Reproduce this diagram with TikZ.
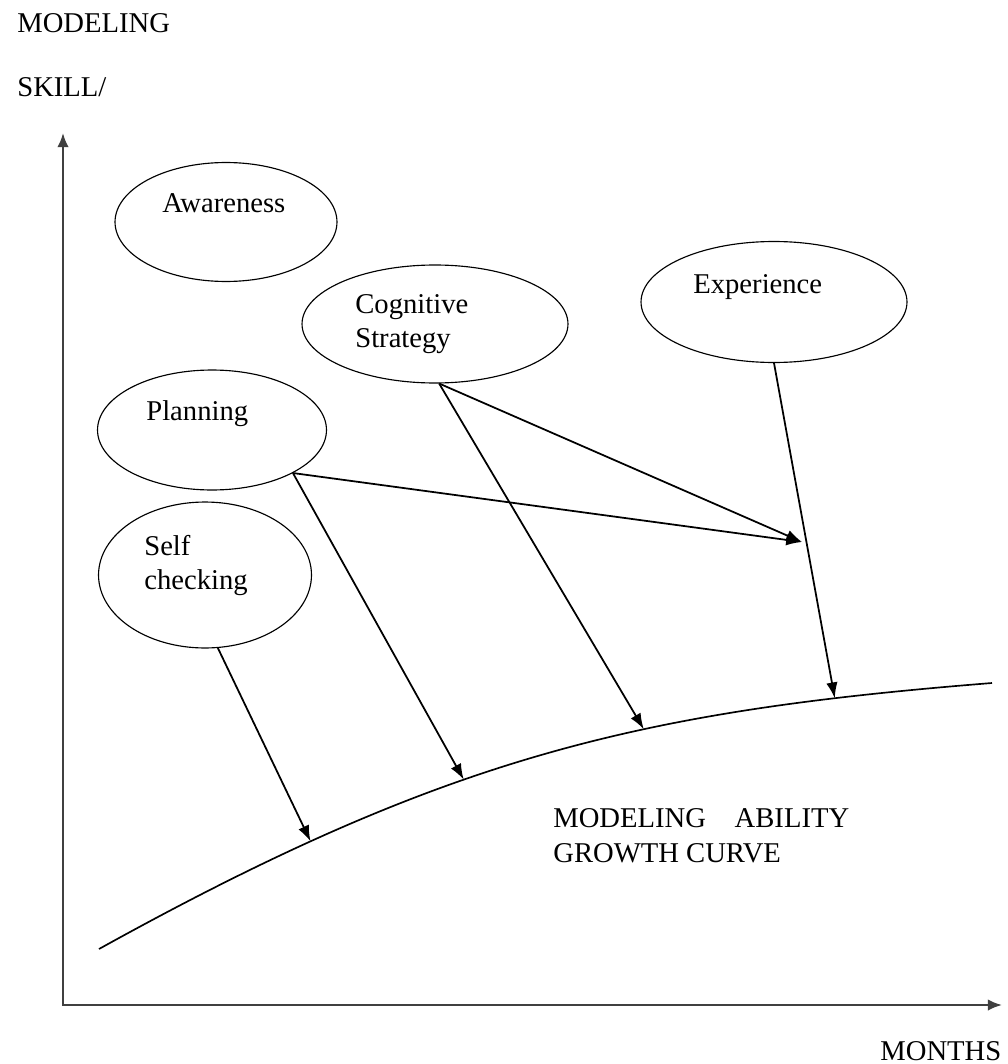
\documentclass[tikz,border=0pt]{standalone}
\usepackage{fontspec}
\setmainfont{Liberation Serif}
\usetikzlibrary{shapes.geometric}
\usetikzlibrary{arrows.meta}
\tikzset{>=latex}
\tikzset{bubble/.style={ellipse,draw,line width=0.65pt,inner sep=0pt}}
\tikzset{lbl/.style={anchor=base west,inner sep=0pt,font=\fontsize{16.3}{19.4}\selectfont}}
\tikzset{arr/.style={-{Latex[length=9pt,width=6.5pt]},line width=1pt}}
\tikzset{axis/.style={{Latex[length=8pt,width=6.5pt]}-{Latex[length=8pt,width=6.5pt]},line width=1.3pt,black!75}}

\begin{document}
\begin{tikzpicture}[x=0.02cm,y=-0.02cm]
                    \useasboundingbox (0,0) rectangle (1007,1064);

                    \node[lbl] (ytitle) at (17,33) {MODELING};
                    \node[lbl] (yunit) at (17,97) {SKILL/};
                    \node[lbl] (xtitle) at (880,1060) {MONTHS};

                    \coordinate (ytop) at (63,133);
                    \coordinate (origin) at (63,1005);
                    \coordinate (xend) at (1002,1005);
                    \draw[axis] (ytop) -- (origin) -- (xend);

                    \node[bubble, minimum width=4.44cm, minimum height=2.38cm] (aware) at (226,222) {};
                    \node[bubble, minimum width=5.32cm, minimum height=2.36cm] (cogn) at (435,324) {};
                    \node[bubble, minimum width=5.32cm, minimum height=2.42cm] (exper) at (774,302) {};
                    \node[bubble, minimum width=4.58cm, minimum height=2.40cm] (plan) at (212,430) {};
                    \node[bubble, minimum width=4.26cm, minimum height=2.92cm] (self) at (205,575) {};

                    \node[lbl] (awaretxt) at (162,213) {Awareness};
                    \node[lbl, text width=3cm, align=left] (cogntxt) at (355,313) {Cognitive\\Strategy};
                    \node[lbl] (expertxt) at (693,293) {Experience};
                    \node[lbl] (plantxt) at (146,420) {Planning};
                    \node[lbl, text width=3cm, align=left] (selftxt) at (144,555) {Self\\checking};

                    \coordinate (g0) at (99,949);
                    \coordinate (g5) at (992,683);
                    \draw[line width=0.95pt] (g0) .. controls (449,755) and (642,711) .. (g5)
                        coordinate[pos=0.22] (g1) coordinate[pos=0.4] (g2)
                        coordinate[pos=0.62] (g3) coordinate[pos=0.84] (g4);

                    \node[lbl] (curvetxt) at (553,827) {MODELING\quad ABILITY};
                    \node[lbl] (curvetxt2) at (553,862) {GROWTH CURVE};

                    \coordinate (meet) at (802,542);
                    \draw[arr] (self.-80) -- (g1);
                    \draw[arr] (plan.-28) -- (g2);
                    \draw[arr] (plan.-28) -- (meet);
                    \draw[arr] (cogn.-86) -- (g3);
                    \draw[arr] (cogn.-86) -- (meet);
                    \draw[arr] (exper.-90) -- (g4);
                \end{tikzpicture}
\end{document}
